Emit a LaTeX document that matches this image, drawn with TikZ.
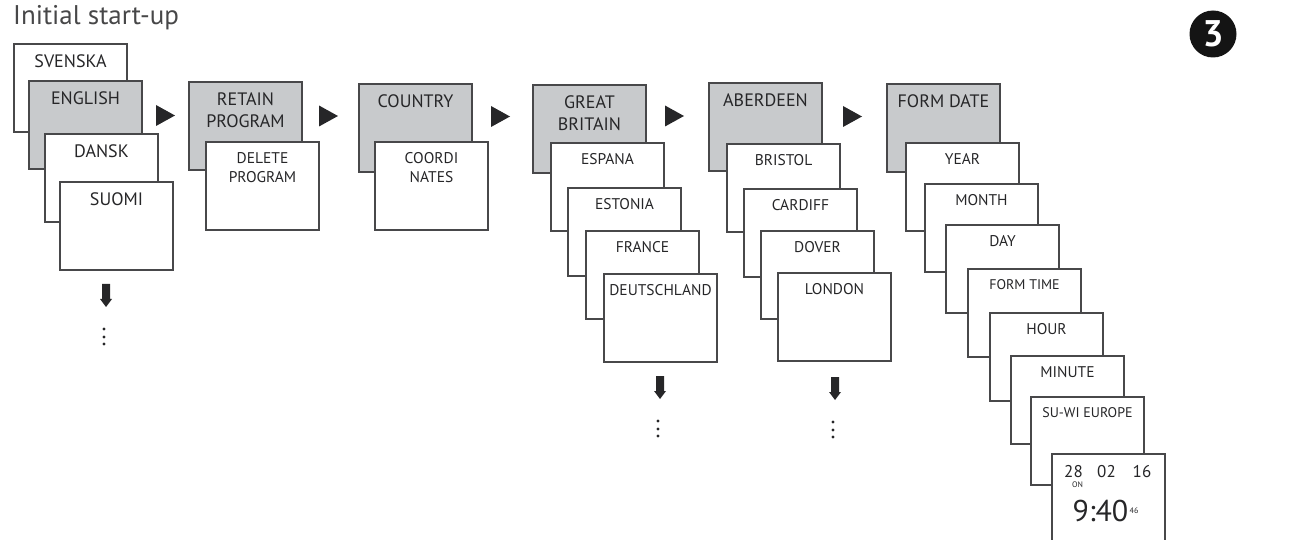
\documentclass[tikz,border=0pt]{standalone}
\usepackage{fontspec}
\setmainfont{PT Sans}
\usetikzlibrary{positioning}
\definecolor{cardgray}{RGB}{200,202,204}
\definecolor{inkgray}{RGB}{38,38,40}
\definecolor{rimgray}{RGB}{72,72,74}
\tikzset{
  card/.style={draw=rimgray,line width=1.1pt,fill=white,minimum width=113pt,minimum height=88pt,anchor=north west,inner sep=0pt,outer sep=0pt},
  headcard/.style={card,fill=cardgray},
  bigtxt/.style={font=\fontsize{18}{22}\selectfont,text=inkgray,align=center,inner sep=0pt},
  smalltxt/.style={font=\fontsize{15.5}{19}\selectfont,text=inkgray,align=center,inner sep=0pt},
  tighttxt/.style={font=\fontsize{14}{17}\selectfont,text=inkgray,align=center,inner sep=0pt},
  playtip/.pic={\fill[inkgray] (0,-10.5) -- (19,0) -- (0,10.5) -- cycle;},
  godown/.pic={
    \fill[inkgray] (-4,0) -- (4,0) -- (4,15) -- (6,15) -- (0,23) -- (-6,15) -- (-4,15) -- cycle;
    \foreach \d in {45,53,60} \fill[inkgray] (-2,\d) circle (1.7);
  }
}

\begin{document}
\begin{tikzpicture}[x=1pt,y=-1pt]
    \useasboundingbox (0,0) rectangle (1302,540);

    \node[anchor=base west,inner sep=0pt,text=inkgray!85,font=\fontsize{27}{30}\selectfont] (title) at (13,25) {Initial start-up};
    \node[circle,fill=black!92,minimum size=47pt,inner sep=0pt,text=white,font=\fontsize{37}{37}\selectfont\bfseries] (stepno) at (1213,34) {3};

    % menu cards, back to front
    \foreach \nm/\px/\py/\kind/\size/\txt in {
        svenska/14/44/card/bigtxt/SVENSKA,
        english/29/81/headcard/bigtxt/ENGLISH,
        dansk/45/134/card/bigtxt/DANSK,
        suomi/60/182/card/bigtxt/SUOMI,
        retain/189/82/headcard/bigtxt/{RETAIN\\PROGRAM},
        delete/206/142/card/smalltxt/{DELETE\\PROGRAM},
        country/359/84/headcard/bigtxt/COUNTRY,
        coord/375/142/card/smalltxt/{COORDI\\NATES},
        gb/533/85/headcard/bigtxt/{GREAT\\BRITAIN},
        espana/551/143/card/smalltxt/ESPANA,
        estonia/568/188/card/smalltxt/ESTONIA,
        france/586/231/card/smalltxt/FRANCE,
        deutsch/604/274/card/smalltxt/DEUTSCHLAND,
        aberdeen/709/83/headcard/bigtxt/ABERDEEN,
        bristol/727/144/card/smalltxt/BRISTOL,
        cardiff/744/189/card/smalltxt/CARDIFF,
        dover/761/231/card/smalltxt/DOVER,
        london/778/273/card/smalltxt/LONDON,
        formdate/887/84/headcard/bigtxt/FORM DATE,
        year/906/143/card/smalltxt/YEAR,
        month/925/184/card/smalltxt/MONTH,
        day/946/225/card/smalltxt/DAY,
        formtime/968/269/card/tighttxt/FORM TIME,
        hour/990/313/card/smalltxt/HOUR,
        minute/1011/356/card/smalltxt/MINUTE,
        suwi/1031/397/card/tighttxt/SU-WI EUROPE} {
        \node[\kind] (\nm) at (\px,\py) {};
        \node[\size,below=10.5pt of \nm.north] (\nm-txt) {\txt};
    }

    % clock display
    \node[card] (display) at (1052,454) {};
    \node[smalltxt,font=\fontsize{17}{17}\selectfont] (dd) at (1073.5,472) {28};
    \node[smalltxt,font=\fontsize{17}{17}\selectfont] (mm) at (1106.5,472) {02};
    \node[smalltxt,font=\fontsize{17}{17}\selectfont] (yy) at (1142,472) {16};
    \node[smalltxt,font=\fontsize{8}{8}\selectfont] (on) at (1077.5,485) {ON};
    \node[smalltxt,font=\fontsize{30}{30}\selectfont] (clock) at (1100.5,510.5) {9:40};
    \node[smalltxt,font=\fontsize{8}{8}\selectfont,right=1pt of clock] (secs) {46};

    % arrows between the menus
    \foreach \ax/\ay in {156/115.5,319/116,491/116.5,665/116,843/116.5}
        \pic at (\ax,\ay) {playtip};
    \foreach \ax/\ay in {106/284,660/376,835/377}
        \pic at (\ax,\ay) {godown};
\end{tikzpicture}
\end{document}
